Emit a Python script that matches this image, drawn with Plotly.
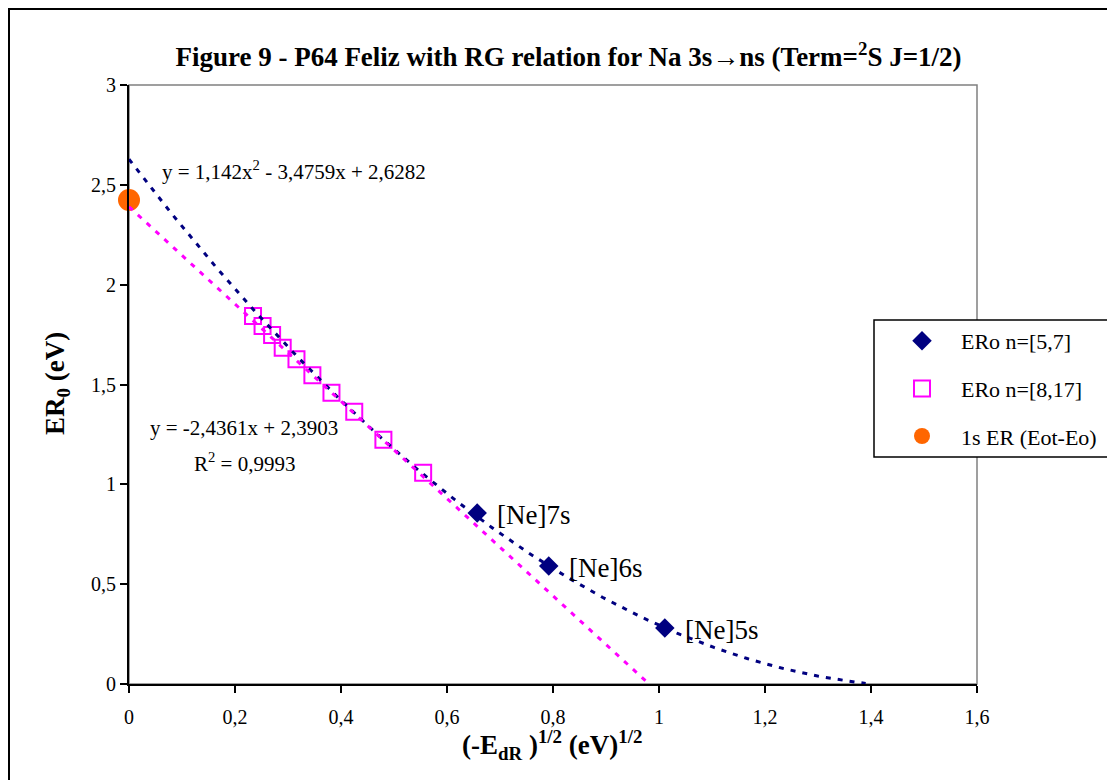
import numpy as np
import plotly.graph_objects as go

# ---- data ----
diamond_x = [0.657, 0.792, 1.011]
diamond_y = [0.856, 0.591, 0.280]
diamond_labels = ["[Ne]7s", "[Ne]6s", "[Ne]5s"]

square_x = [0.234, 0.252, 0.270, 0.290, 0.316, 0.346, 0.382, 0.425, 0.480, 0.555]
square_y = [1.843, 1.793, 1.748, 1.684, 1.626, 1.546, 1.459, 1.364, 1.223, 1.058]

circle_x = [0.0]
circle_y = [2.424]

quad_coef = [1.142, -3.4759, 2.6282]   # a x^2 + b x + c
lin_coef = [-2.4361, 2.3903]            # m x + b
quad_x_end = 1.39

x_ticks = [0, 0.2, 0.4, 0.6, 0.8, 1.0, 1.2, 1.4, 1.6]
y_ticks = [0, 0.5, 1.0, 1.5, 2.0, 2.5, 3.0]

FONT = "Liberation Serif"
NAVY = "#000080"
MAG = "#FF00FF"
ORANGE = "#FF6600"

OFF = 8  # page body margin
W, H = 1115 - OFF, 780 - OFF
L, R, T, B = 129, 977, 85, 684   # plot area in screen pixels


def px(x):
    return (x - L) / (R - L)


def py(y):
    return (B - y) / (B - T)


fig = go.Figure()

fig.add_trace(go.Scatter(
    x=diamond_x, y=diamond_y, mode="markers", name="ERo n=[5,7]",
    marker=dict(symbol="diamond", size=15, color=NAVY),
    legendgroup="a", legendrank=1, cliponaxis=False))
fig.add_trace(go.Scatter(
    x=square_x, y=square_y, mode="markers", name="ERo n=[8,17]",
    marker=dict(symbol="square-open", size=16, color=MAG, line=dict(width=2, color=MAG)),
    legendgroup="b", legendrank=2, cliponaxis=False))
fig.add_trace(go.Scatter(
    x=circle_x, y=circle_y, mode="markers", name="1s ER (Eot-Eo)",
    marker=dict(symbol="circle", size=22, color=ORANGE),
    legendgroup="c", legendrank=3, cliponaxis=False))

# trend lines
qx = np.linspace(0, quad_x_end, 200)
qy = np.polyval(quad_coef, qx)
fig.add_trace(go.Scatter(x=qx, y=qy, mode="lines", showlegend=False,
                         line=dict(color=NAVY, width=3, dash="5px,7px"), hoverinfo="skip"))
lx = np.linspace(0, -lin_coef[1] / lin_coef[0], 200)
ly = np.polyval(lin_coef, lx)
fig.add_trace(go.Scatter(x=lx, y=ly, mode="lines", showlegend=False,
                         line=dict(color=MAG, width=3, dash="5px,7px"), hoverinfo="skip"))

annotations = []
for xv, yv, lab in zip(diamond_x, diamond_y, diamond_labels):
    annotations.append(dict(x=xv, y=yv, text=lab, showarrow=False, xanchor="left",
                            yanchor="middle", xshift=18, yshift=-2,
                            font=dict(family=FONT, size=27, color="black")))

annotations += [
    dict(xref="paper", yref="paper", x=px(160), y=py(170), xanchor="left", yanchor="middle",
         text="y = 1,142x<sup>2</sup> - 3,4759x + 2,6282", showarrow=False,
         font=dict(family=FONT, size=21, color="black")),
    dict(xref="paper", yref="paper", x=px(148), y=py(428), xanchor="left", yanchor="middle",
         text="y = -2,4361x + 2,3903", showarrow=False,
         font=dict(family=FONT, size=21, color="black")),
    dict(xref="paper", yref="paper", x=px(192), y=py(463), xanchor="left", yanchor="middle",
         text="R<sup>2</sup> = 0,9993", showarrow=False,
         font=dict(family=FONT, size=21, color="black")),
    dict(xref="paper", yref="paper", x=px(552), y=py(745), xanchor="center", yanchor="middle",
         text="<b>(-E<sub>dR</sub> )<sup>1/2</sup> (eV)<sup>1/2</sup></b>", showarrow=False,
         font=dict(family=FONT, size=27, color="black")),
    dict(xref="paper", yref="paper", x=px(57), y=py(384), xanchor="center", yanchor="middle",
         text="<b>ER<sub>0</sub> (eV)</b>", showarrow=False, textangle=-90,
         font=dict(family=FONT, size=27, color="black")),
]

shapes = [
    # outer chart frame
    dict(type="rect", xref="paper", yref="paper", x0=px(9), y0=py(9), x1=px(1130), y1=py(800),
         line=dict(color="black", width=2), layer="below"),
    # plot area border (gray)
    dict(type="rect", xref="paper", yref="paper", x0=0, y0=0, x1=1, y1=1,
         line=dict(color="#808080", width=1.5), layer="below"),
    # legend box
    dict(type="rect", xref="paper", yref="paper", x0=px(874), y0=py(320), x1=px(1130), y1=py(457),
         line=dict(color="black", width=1.5), fillcolor="white", layer="above"),
]

fig.update_layout(
    width=W, height=H,
    margin=dict(l=L - OFF, r=W - (R - OFF), t=T - OFF, b=H - (B - OFF), pad=0),
    paper_bgcolor="white", plot_bgcolor="white",
    separators=",.",
    font=dict(family=FONT, size=20, color="black"),
    title=dict(text="<b>Figure 9 - P64 Feliz with RG relation for Na 3s\u2192ns (Term=<sup>2</sup>S J=1/2)</b>",
               x=(568.5 - OFF) / W, xanchor="center", y=1 - (57 - OFF) / H, yanchor="middle",
               yref="container", xref="container",
               font=dict(family=FONT, size=27, color="black")),
    xaxis=dict(range=[0, 1.6], tickvals=x_ticks, showgrid=False, zeroline=False,
               showline=True, linecolor="black", linewidth=2,
               ticks="outside", ticklen=7, tickwidth=1.5, tickcolor="black",
               ticklabelstandoff=7,
               tickfont=dict(family=FONT, size=20), fixedrange=True),
    yaxis=dict(range=[0, 3], tickvals=y_ticks, showgrid=False, zeroline=False,
               showline=True, linecolor="black", linewidth=2,
               ticks="outside", ticklen=7, tickwidth=1.5, tickcolor="black",
               tickfont=dict(family=FONT, size=20), fixedrange=True),
    legend=dict(x=px(883), y=py(320), xanchor="left", yanchor="top",
                bgcolor="rgba(0,0,0,0)", borderwidth=0,
                itemwidth=68, tracegroupgap=16,
                font=dict(family=FONT, size=22, color="black")),
    annotations=annotations,
    shapes=shapes,
    showlegend=True,
)

fig.write_html("out.html")
